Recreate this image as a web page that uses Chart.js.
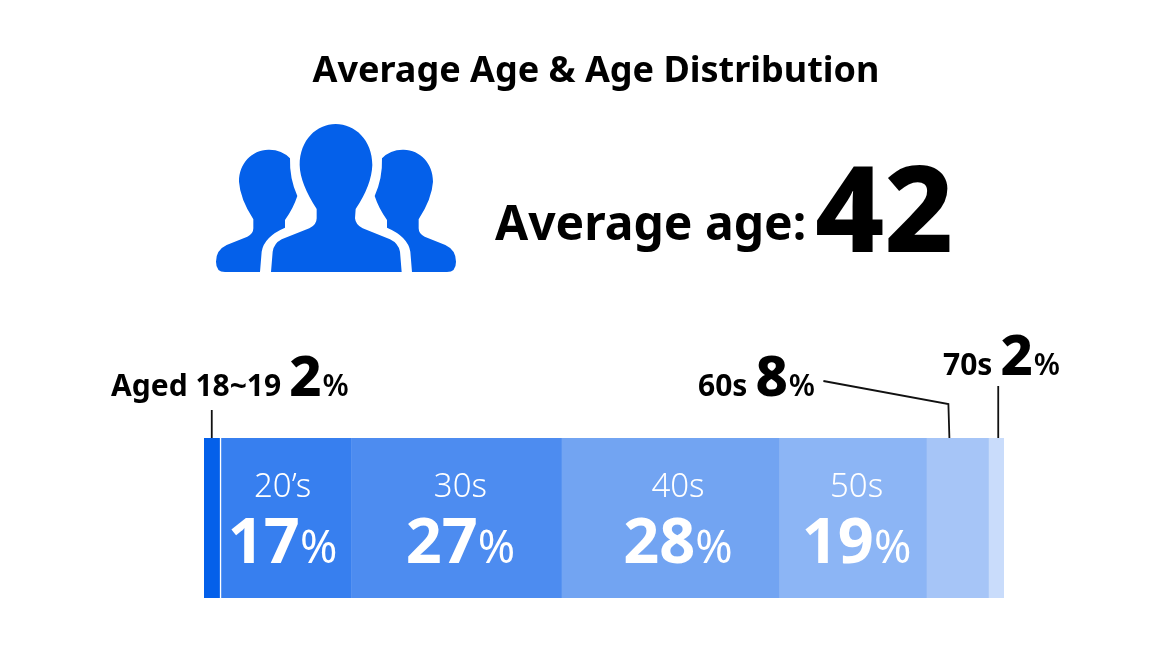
<!DOCTYPE html>
<html>
<head>
<meta charset="utf-8">
<title>Average Age & Age Distribution</title>
<script src="https://cdn.jsdelivr.net/npm/chart.js@4/dist/chart.umd.min.js"></script>
<style>
  html, body { margin: 0; padding: 0; background: #fff; }
  #wrap { position: relative; width: 1168px; height: 664px; overflow: hidden; }
  #myChart { position: absolute; left: 0; top: 0; }
  #people { position: absolute; left: 190px; top: 110px; width: 290px; height: 170px; }
</style>
</head>
<body>
<div id="wrap">
  <canvas id="myChart" width="1168" height="664"></canvas>
  <svg id="people" viewBox="0 0 870 510" fill="#0460ea">
    <path id="side" d="M210,486 L215,425 Q222,380 285,353 L285,330 Q310,295 322,258 Q298,205 300,145 Q275,118 235,119 C185,120 147,160 147,215 Q150,265 190,328 L190,355 Q190,372 172,380 L110,405 Q78,420 78,455 Q78,486 105,486 Z"/>
    <use href="#side" transform="translate(876,0) scale(-1,1)"/>
    <path d="M243,486 L248,425 Q252,400 275,388 L358,355 Q380,345 380,325 L380,297 Q330,220 329,165 C329,90 380,42 437,42 C495,42 547,90 547,165 Q545,225 497,297 L495,325 Q497,345 518,355 L600,388 Q625,400 630,425 L635,486 Z"/>
  </svg>
</div>
<script>
const titleText = 'Average Age & Age Distribution';
const averageLabel = 'Average age:';
const averageAge = '42';
const ageGroups = ['Aged 18~19', '20’s', '30s', '40s', '50s', '60s', '70s'];
const shares = [2, 17, 27, 28, 19, 8, 2];
const barColors = ['#0460ea', '#377fef', '#4d8cf0', '#72a4f2', '#8cb5f5', '#a6c5f7', '#c9dcfb'];

const FONT = '"Noto Sans", sans-serif';

// left edge of a segment on the x scale
const startOf = (i) => shares.slice(0, i).reduce((a, b) => a + b, 0);

// writes pieces of different sizes on one baseline, returns end x
function drawRuns(ctx, x, y, runs) {
  ctx.textAlign = 'left';
  runs.forEach((r) => {
    ctx.font = `${r.weight} ${r.size}px ${FONT}`;
    ctx.fillText(r.text, x, y);
    x += ctx.measureText(r.text).width + (r.gap || 0);
  });
  return x;
}

function runsWidth(ctx, runs) {
  return runs.reduce((w, r) => {
    ctx.font = `${r.weight} ${r.size}px ${FONT}`;
    return w + ctx.measureText(r.text).width + (r.gap || 0);
  }, 0);
}

// label nudge inside the bar, the source doesn't center them exactly
const insideShift = { 1: -3, 2: 4, 3: 8, 4: 4 };

// callouts above the bar: text start, baseline, and leader offsets from the segment centre
const callouts = [
  { i: 0, x: 111, y: 396, pts: [[0, 410], [0, 438]] },
  { i: 5, x: 698, y: 396, pts: [[-134, 381], [-9, 404], [-8, 438]] },
  { i: 6, x: 943, y: 375, pts: [[2, 386], [2, 438]] }
];

const textPlugin = {
  id: 'textPlugin',
  afterDraw(chart) {
    const ctx = chart.ctx;
    const xs = chart.scales.x;
    ctx.save();
    ctx.textBaseline = 'alphabetic';

    // heading
    ctx.fillStyle = '#000';
    ctx.font = `700 36px ${FONT}`;
    ctx.textAlign = 'center';
    ctx.fillText(titleText, 596, 82);

    // average age
    ctx.textAlign = 'left';
    ctx.font = `700 48px ${FONT}`;
    ctx.fillText(averageLabel, 495, 240);
    ctx.font = `800 120px ${FONT}`;
    ctx.fillText(averageAge, 815, 252);

    // labels inside the bar
    ctx.fillStyle = '#fff';
    [1, 2, 3, 4].forEach((i) => {
      const cx = xs.getPixelForValue(startOf(i) + shares[i] / 2) + insideShift[i];
      ctx.font = `300 33px ${FONT}`;
      ctx.textAlign = 'center';
      ctx.fillText(ageGroups[i], cx, 497);
      const runs = [
        { text: String(shares[i]), size: 63, weight: 700 },
        { text: '%', size: 45, weight: 400 }
      ];
      drawRuns(ctx, cx - runsWidth(ctx, runs) / 2, 563, runs);
    });

    // callouts with leader lines
    ctx.fillStyle = '#000';
    ctx.strokeStyle = '#111';
    ctx.lineWidth = 1.8;
    callouts.forEach((c) => {
      drawRuns(ctx, c.x, c.y, [
        { text: ageGroups[c.i], size: 30, weight: 700, gap: 8 },
        { text: String(shares[c.i]), size: 56, weight: 800, gap: 1 },
        { text: '%', size: 30, weight: 600 }
      ]);
      const cx = xs.getPixelForValue(startOf(c.i) + shares[c.i] / 2);
      ctx.beginPath();
      c.pts.forEach((p, k) => {
        if (k === 0) ctx.moveTo(cx + p[0], p[1]);
        else ctx.lineTo(cx + p[0], p[1]);
      });
      ctx.stroke();
    });
    ctx.restore();
  }
};

new Chart(document.getElementById('myChart'), {
  type: 'bar',
  data: {
    labels: ['Age'],
    datasets: ageGroups.map((name, i) => ({
      label: name,
      data: [shares[i]],
      backgroundColor: barColors[i],
      // thin white gap after the first segment
      borderColor: '#fff',
      borderWidth: i === 1 ? { left: 2 } : 0,
      borderSkipped: false,
      barPercentage: 1,
      categoryPercentage: 1
    }))
  },
  options: {
    indexAxis: 'y',
    responsive: false,
    animation: false,
    layout: { padding: { left: 204, right: 164, top: 438, bottom: 66 } },
    scales: {
      x: { stacked: true, display: false, min: 0, max: 103 },
      y: { stacked: true, display: false }
    },
    plugins: {
      legend: { display: false },
      title: { display: false },
      tooltip: { enabled: false }
    }
  },
  plugins: [textPlugin]
});
</script>
</body>
</html>
